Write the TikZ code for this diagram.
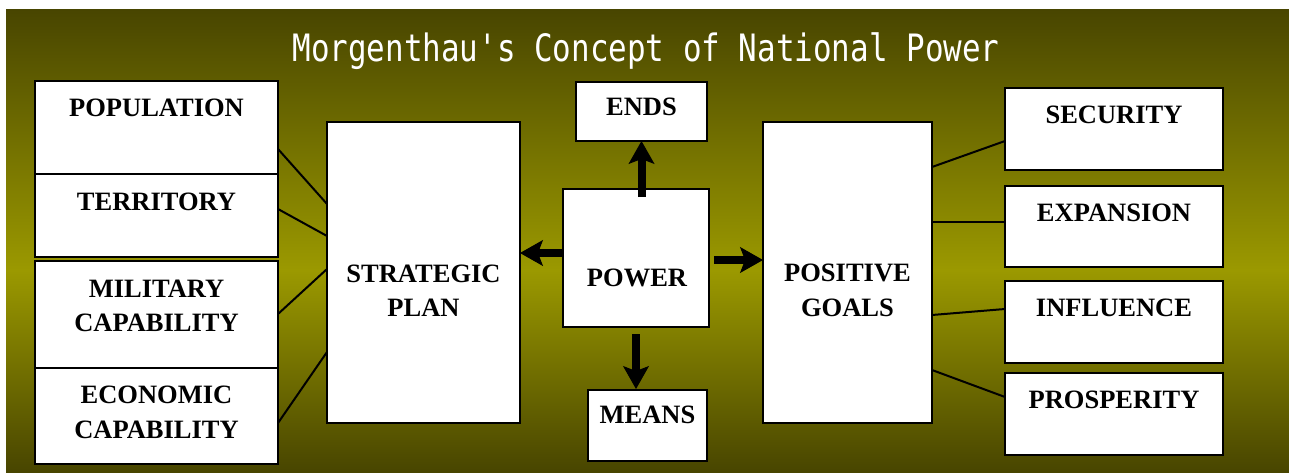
\documentclass[tikz,border=0pt]{standalone}
\usepackage{fontspec}
\setmainfont{Liberation Serif}
\setmonofont{DejaVu Sans Mono}
\usetikzlibrary{arrows.meta}
\definecolor{olivedark}{RGB}{72,69,0}
\definecolor{olivebright}{RGB}{155,153,0}
\begin{document}
\begin{tikzpicture}[x=1pt,y=-1pt,
  box/.style={draw=black, fill=white, line width=2.5pt, rectangle, anchor=north west,
              inner sep=0pt, outer sep=0pt},
  lbl/.style={font=\fontsize{26.5}{34.5}\selectfont\bfseries, align=center, inner sep=0pt},
  link/.style={line width=2pt, draw=black},
  bigarrow/.style={draw=black, line width=8pt,
                   -{Stealth[length=23pt,width=26pt,inset=5pt,line width=1pt]}},
]
% page and shaded backdrop
\useasboundingbox (0,0) rectangle (1289,472);
\fill[white] (0,0) rectangle (1289,472);
\shade[top color=olivedark, bottom color=olivebright] (6,9) rectangle (1289,270);
\shade[top color=olivebright, bottom color=olivedark] (6,270) rectangle (1289,472);

% title
\node[text=white, anchor=base, inner sep=0pt] (title) at (646,61.7)
  {\ttfamily\fontsize{30.9}{36}\selectfont\scalebox{1}[1.22]{Morgenthau's Concept of National Power}};

% elements of national power
\node[box, minimum width=243pt, minimum height=93pt]  (pop)  at (35,81)  {};
\node[box, minimum width=243pt, minimum height=83pt]  (terr) at (35,174) {};
\node[box, minimum width=243pt, minimum height=107pt] (mil)  at (35,261) {};
\node[box, minimum width=243pt, minimum height=96pt]  (econ) at (35,368) {};
\node[lbl] (popt)  at (156.5,108)   {POPULATION};
\node[lbl] (terrt) at (156.5,202)   {TERRITORY};
\node[lbl] (milt)  at (156.5,306)   {MILITARY\\CAPABILITY};
\node[lbl] (econt) at (156.5,412.5) {ECONOMIC\\CAPABILITY};

% strategic plan
\node[box, minimum width=193pt, minimum height=301pt] (strat) at (327,122) {};
\node[lbl] (stratt) at (423.5,290.5) {STRATEGIC\\PLAN};

% power with ends and means
\node[box, minimum width=146pt, minimum height=138pt] (power) at (563,189) {};
\node[lbl] (powert) at (637,278) {POWER};
\node[box, minimum width=131pt, minimum height=59pt] (ends) at (576,82) {};
\node[lbl] (endst) at (641.5,107) {ENDS};
\node[box, minimum width=119pt, minimum height=71pt] (means) at (588,390) {};
\node[lbl] (meanst) at (647.5,415) {MEANS};

% positive goals
\node[box, minimum width=169pt, minimum height=301pt] (goals) at (763,122) {};
\node[lbl] (goalst) at (847.5,290.5) {POSITIVE\\GOALS};

% goals
\node[box, minimum width=218pt, minimum height=82pt] (sec)  at (1005,88)  {};
\node[box, minimum width=218pt, minimum height=81pt] (exp)  at (1005,186) {};
\node[box, minimum width=218pt, minimum height=82pt] (inf)  at (1005,281) {};
\node[box, minimum width=218pt, minimum height=82pt] (pros) at (1005,373) {};
\node[lbl] (sect)  at (1114,115) {SECURITY};
\node[lbl] (expt)  at (1114,213) {EXPANSION};
\node[lbl] (inft)  at (1114,308) {INFLUENCE};
\node[lbl] (prost) at (1114,400) {PROSPERITY};

% links into the strategic plan
\draw[link] ([yshift=-68pt]pop.north east)  -- ([yshift=-82pt]strat.north west);
\draw[link] ([yshift=-35pt]terr.north east) -- ([yshift=-114pt]strat.north west);
\draw[link] ([yshift=-53pt]mil.north east)  -- ([yshift=-147pt]strat.north west);
\draw[link] ([yshift=-55pt]econ.north east) -- ([yshift=-230pt]strat.north west);

% links out of the positive goals
\draw[link] ([yshift=-45pt]goals.north east)  -- ([yshift=-53pt]sec.north west);
\draw[link] ([yshift=-100pt]goals.north east) -- ([yshift=-36pt]exp.north west);
\draw[link] ([yshift=-193pt]goals.north east) -- ([yshift=-28pt]inf.north west);
\draw[link] ([yshift=-248pt]goals.north east) -- ([yshift=-24pt]pros.north west);

% arrows from power
\coordinate (pl) at ([yshift=5pt]power.west);
\coordinate (pr) at ([yshift=-2pt]power.east);
\draw[bigarrow, shorten <=-8pt] (power.north -| ends.south) -- (ends.south);
\draw[bigarrow, shorten <=7pt, shorten >=1pt] (power.south) -- (power.south |- means.north);
\draw[bigarrow] (pl) -- (pl -| strat.east);
\draw[bigarrow, shorten <=5pt] (pr) -- (pr -| goals.west);
\end{tikzpicture}
\end{document}
